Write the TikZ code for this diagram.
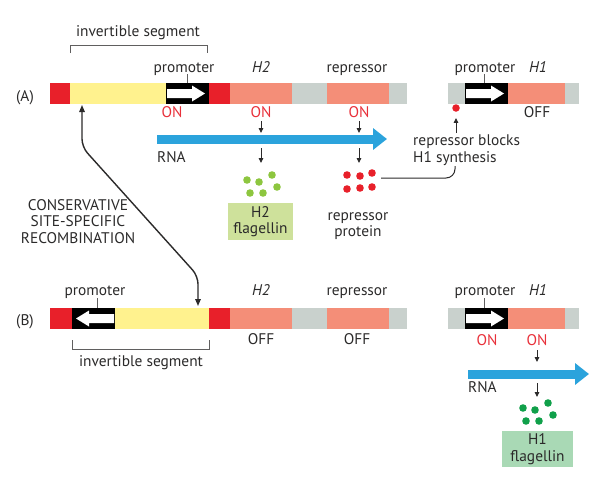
\documentclass[tikz,border=0pt]{standalone}
\usepackage{fontspec}
\setmainfont{PT Sans}
\usepackage{tikz}
\usetikzlibrary{arrows.meta, positioning, calc}
\definecolor{segRed}{HTML}{E8202A}
\definecolor{segYellow}{HTML}{FFF28E}
\definecolor{segSalmon}{HTML}{F48E78}
\definecolor{segGrey}{HTML}{C9D1CD}
\definecolor{rnaBlue}{HTML}{2BA3DC}
\definecolor{onRed}{HTML}{E8303A}
\definecolor{dotLime}{HTML}{8DC63F}
\definecolor{boxLime}{HTML}{CEE19B}
\definecolor{dotGreen}{HTML}{10A04A}
\definecolor{boxGreen}{HTML}{A9D9B5}
\definecolor{txtInk}{HTML}{2B2A2A}

\begin{document}
\begin{tikzpicture}[
  x=1pt, y=-1pt,
  font=\fontsize{15.4}{16.5}\selectfont,
  lbl/.style={text=txtInk, inner sep=0pt, anchor=base},
  gene/.style={lbl, font=\fontsize{15.4}{16.5}\selectfont\itshape},
  onlbl/.style={lbl, text=onRed},
  brkt/.style={draw=txtInk!75, line width=0.8pt},
  tickln/.style={draw=txtInk!75, line width=0.8pt},
  stepArrow/.style={draw=txtInk, line width=0.9pt, -{Triangle[length=5pt,width=4.5pt]}},
  link/.style={draw=txtInk, line width=1pt, rounded corners=9pt},
  rna/.style={draw=rnaBlue, line width=9pt, -{Triangle[length=14pt,width=21pt]}},
  recomb/.style={draw=txtInk, line width=1.4pt, rounded corners=8pt,
    {Triangle[length=7pt,width=5.5pt]}-{Triangle[length=7pt,width=5.5pt]}},
  flag/.style={fill=#1, text=txtInk, inner sep=0pt, align=center},
]
\useasboundingbox (0,0) rectangle (589,477);

% one DNA strand: #1 = top edge, #2 = list of left/right/colour
\newcommand{\strand}[2]{%
  \foreach \xa/\xb/\col in {#2}
    \fill[\col] (\xa,#1) rectangle (\xb,{#1+21});}

% promoter box, arrow pointing right (#1 = left edge, #2 = top edge)
\newcommand{\promright}[2]{%
  \fill[black] (#1,#2) rectangle ({#1+43},{#2+21});
  \fill[white] ({#1+1},{#2+6}) -- ({#1+26},{#2+6}) -- ({#1+26},{#2+2.5})
    -- ({#1+39},{#2+10.5}) -- ({#1+26},{#2+18.5}) -- ({#1+26},{#2+15})
    -- ({#1+1},{#2+15}) -- cycle;}

% same box, arrow pointing left
\newcommand{\promleft}[2]{%
  \fill[black] (#1,#2) rectangle ({#1+43},{#2+21});
  \fill[white] ({#1+42},{#2+6}) -- ({#1+17},{#2+6}) -- ({#1+17},{#2+2.5})
    -- ({#1+4},{#2+10.5}) -- ({#1+17},{#2+18.5}) -- ({#1+17},{#2+15})
    -- ({#1+42},{#2+15}) -- cycle;}

% six protein molecules, #1 = colour, shifted by #2,#3
\newcommand{\proteins}[3]{%
  \foreach \px/\py in {247/180, 259/182, 272/175, 277/187, 250/193, 263/193}
    \fill[#1] ({\px+#2},{\py+#3}) circle (3.8pt);}

% ============================== (A) ==========================================
\node[lbl] (labA) at (25,101) {(A)};

\strand{83}{50/70/segRed, 70/166/segYellow, 209/230/segRed, 230/292/segSalmon,
  292/327/segGrey, 327/389/segSalmon, 389/407/segGrey,
  448/465/segGrey, 508/565/segSalmon, 565/579/segGrey}
\promright{166}{83}
\promright{465}{83}

% the invertible segment, bracket on top
\draw[brkt] (70,53) -- (70,45) -- (207,45) -- (207,53);
\node[lbl] (invA) at (138,36) {invertible segment};

\node[lbl] (promA) at (184,72) {promoter};
\draw[tickln] (187,74) -- (187,83);
\node[gene] (h2A) at (261,72) {H2};
\node[lbl] (repA) at (357,72) {repressor};
\node[lbl] (promRA) at (485,72) {promoter};
\draw[tickln] (484,74) -- (484,83);
\node[gene] (h1A) at (538,72) {H1};

\node[onlbl] (onPA) at (172,117) {ON};
\node[onlbl] (onH2A) at (261,117) {ON};
\node[onlbl] (onRepA) at (359,117) {ON};
\node[lbl] (offH1A) at (537,117) {OFF};

% transcript
\coordinate (rnaA0) at (157,139);
\coordinate (rnaA1) at (387,139);
\draw[rna] (rnaA0) -- (rnaA1);
\node[lbl, anchor=base west] (rnaLblA) at (157,162) {RNA};

\draw[stepArrow] (261,121) -- (261,133);
\draw[stepArrow] (261,148) -- (261,163);
\draw[stepArrow] (359,121) -- (359,133);
\draw[stepArrow] (359,148) -- (359,163);

% H2 flagellin
\proteins{dotLime}{0}{0}
\node[flag=boxLime, minimum width=65pt, minimum height=37pt] (flagH2)
  at (260.5,221.5) {H2\\flagellin};

% repressor protein
\foreach \px/\py in {347/175, 360/176, 372/173, 347/189, 360/188, 372/187}
  \fill[segRed] (\px,\py) circle (3.8pt);
\node[lbl, anchor=north, align=center] (repProt) at (358,212)
  {repressor\\protein};

% repressor blocks H1
\node[circle, fill=segRed, inner sep=0pt, minimum size=7.5pt] (redDot) at (456,108) {};
\node[lbl, anchor=north west, align=left] (blockTxt) at (413,135)
  {repressor blocks\\H1 synthesis};
\coordinate (blockHead) at (456,133);
\draw[stepArrow] (blockHead) -- (redDot.south) [shorten >=6pt];
\coordinate (repDots) at (381,178);
\coordinate (blockFoot) at (455,166);
\draw[link] (repDots) -| (blockFoot);

% ========================= recombination ======================================
\node[lbl, anchor=north, align=center] (recLbl) at (78,199)
  {CONSERVATIVE\\SITE-SPECIFIC\\RECOMBINATION};
\coordinate (recTop) at (82,105);
\coordinate (recBot) at (198,306);
\draw[recomb] (recTop) -- (82,147) -- (198,276) -- (recBot);

% ============================== (B) ==========================================
\node[lbl] (labB) at (25,325) {(B)};

\strand{308}{50/72/segRed, 115/209/segYellow, 209/230/segRed, 230/292/segSalmon,
  292/327/segGrey, 327/389/segSalmon, 389/407/segGrey,
  448/465/segGrey, 508/565/segSalmon, 565/579/segGrey}
\promleft{72}{308}
\promright{465}{308}

\node[lbl] (promB) at (95,295) {promoter};
\draw[tickln] (97,298) -- (97,308);
\node[gene] (h2B) at (261,295) {H2};
\node[lbl] (repB) at (357,295) {repressor};
\node[lbl] (promRB) at (485,295) {promoter};
\draw[tickln] (484,298) -- (484,308);
\node[gene] (h1B) at (538,295) {H1};

% the invertible segment, now flipped, bracket below
\draw[brkt] (72,340) -- (72,349) -- (209,349) -- (209,340);
\node[lbl] (invB) at (141,366) {invertible segment};

\node[lbl] (offH2B) at (261,344) {OFF};
\node[lbl] (offRepB) at (357,344) {OFF};
\node[onlbl] (onPB) at (487,345) {ON};
\node[onlbl] (onH1B) at (537,345) {ON};

\coordinate (rnaB0) at (468,374);
\coordinate (rnaB1) at (589,374);
\draw[rna] (rnaB0) -- (rnaB1);
\node[lbl, anchor=base west] (rnaLblB) at (468,392) {RNA};

\draw[stepArrow] (537,350) -- (537,362);
\draw[stepArrow] (537,383) -- (537,397);

% H1 flagellin
\proteins{dotGreen}{276}{228}
\node[flag=boxGreen, minimum width=71pt, minimum height=36pt] (flagH1)
  at (537.5,449) {H1\\flagellin};
\end{tikzpicture}
\end{document}
